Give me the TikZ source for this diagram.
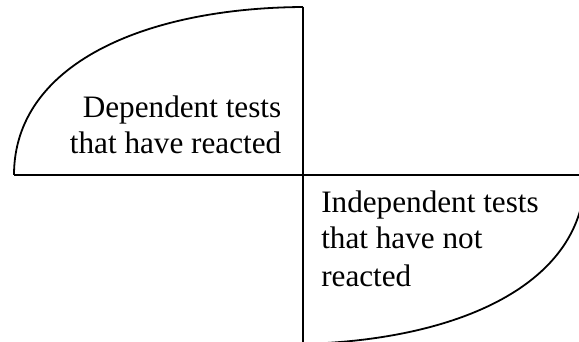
\documentclass[tikz,border=0pt]{standalone}
\usepackage{fontspec}
\setmainfont{Liberation Serif}
\begin{document}
\begin{tikzpicture}[x=0.75pt,y=-0.75pt,
  rule/.style={line width=1.4pt,black},
  arcline/.style={line width=1.35pt,black},
  lbl/.style={inner sep=0pt,font=\fontsize{23.4}{28}\selectfont}]
\useasboundingbox (0,0) rectangle (579,342);
\clip (0,0) rectangle (579,342);
% axes
\coordinate (hl) at (14,175);
\coordinate (hr) at (590,175);
\coordinate (vt) at (303,7);
\coordinate (vb) at (303,345);
\draw[rule] (hl) -- (hr);
\draw[rule] (vt) -- (vb);
% top-left arc
\draw[arcline] (hl) .. controls (14,65) and (143,8) .. (vt);
% bottom-right arc
\coordinate (br) at (585,175);
\coordinate (bb) at (303,344);
\draw[arcline] (br) .. controls (585,284) and (459,340) .. (bb);
% labels
\node[lbl,anchor=base east] (d1) at (281.5,117.7) {Dependent tests};
\node[lbl,anchor=base east] (d2) at (281.5,153.3) {that have reacted};
\node[lbl,anchor=base west] (i1) at (321,212.3) {Independent tests};
\node[lbl,anchor=base west] (i2) at (321,249) {that have not};
\node[lbl,anchor=base west] (i3) at (321,286.5) {reacted};
\end{tikzpicture}
\end{document}
